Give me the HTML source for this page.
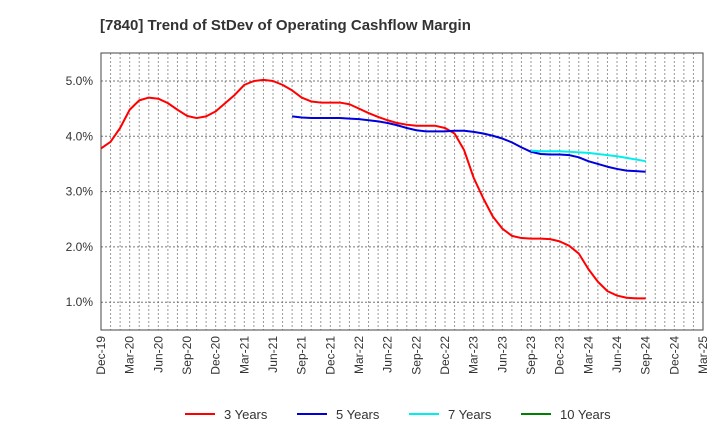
<!DOCTYPE html>
<html><head><meta charset="utf-8"><style>
body{margin:0;background:#fff;font-family:"Liberation Sans",sans-serif}
</style></head><body>
<svg width="720" height="440" id="c" xmlns="http://www.w3.org/2000/svg" font-family="Liberation Sans, sans-serif">
<text x="100" y="30" font-size="15" font-weight="bold" fill="#333">[7840]  Trend of StDev of Operating Cashflow Margin</text>
<g id="grid"></g><g id="axes"></g><g id="series"></g><g id="legend"></g>
</svg>
<script>
const xLabels=["Dec-19","Mar-20","Jun-20","Sep-20","Dec-20","Mar-21","Jun-21","Sep-21","Dec-21","Mar-22","Jun-22","Sep-22","Dec-22","Mar-23","Jun-23","Sep-23","Dec-23","Mar-24","Jun-24","Sep-24","Dec-24","Mar-25"];
const yTicks=[1,2,3,4,5];
const y3=[3.78,3.9,4.15,4.48,4.65,4.7,4.68,4.6,4.48,4.37,4.33,4.36,4.45,4.6,4.75,4.93,5.0,5.02,5.0,4.93,4.83,4.7,4.63,4.61,4.61,4.61,4.58,4.5,4.42,4.35,4.29,4.24,4.21,4.19,4.19,4.19,4.15,4.05,3.75,3.25,2.88,2.55,2.33,2.2,2.16,2.15,2.15,2.14,2.1,2.02,1.88,1.6,1.37,1.2,1.12,1.08,1.07,1.07];
const y5=[4.36,4.34,4.33,4.33,4.33,4.33,4.32,4.31,4.29,4.27,4.24,4.2,4.15,4.11,4.09,4.09,4.09,4.1,4.1,4.08,4.05,4.01,3.96,3.89,3.8,3.72,3.68,3.67,3.67,3.66,3.62,3.55,3.5,3.45,3.41,3.38,3.37,3.36];
const y7=[3.74,3.73,3.73,3.73,3.72,3.71,3.7,3.68,3.66,3.64,3.61,3.58,3.55];
const y10=[];
const start5=20, start7=45, start10=0;
const L=101,R=703,T=53,B=330;
const NS="http://www.w3.org/2000/svg";
const X=m=>L+m*(R-L)/63;
const Y=v=>81+(5-v)*55.3;
function mk(tag,attrs,parent){const e=document.createElementNS(NS,tag);for(const k in attrs)e.setAttribute(k,attrs[k]);document.getElementById(parent).appendChild(e);return e;}
for(let m=1;m<63;m++){const g=mk('line',{x1:X(m),x2:X(m),y1:T,y2:B,stroke:'#999','stroke-dasharray':'2,2','stroke-width':1},'grid');

}
yTicks.forEach(v=>{const g=mk('line',{x1:L,x2:R,y1:Y(v),y2:Y(v),stroke:'#777','stroke-dasharray':'2,2','stroke-width':1},'grid');


const t=mk('text',{x:L-8,y:Y(v)+4,'text-anchor':'end','font-size':12,fill:'#333'},'axes');t.textContent=v.toFixed(1)+'%';

});
const fr=mk('rect',{x:L,y:T,width:R-L,height:B-T,fill:'none',stroke:'#444','stroke-width':1},'axes');


xLabels.forEach((s,i)=>{const x=X(i*3);const t=mk('text',{x:x+4,y:B+6,'text-anchor':'end','font-size':12,fill:'#333',transform:`rotate(-90 ${x+4} ${B+6})`},'axes');t.textContent=s;

});
function line(arr,start,color,name){if(!arr.length)return;const p=mk('polyline',{points:arr.map((v,i)=>X(start+i)+','+Y(v)).join(' '),fill:'none',stroke:color,'stroke-width':2,'stroke-linejoin':'round'},'series');

}
line(y3,0,'#ff0000','series-3-years');line(y5,start5,'#0000dd','series-5-years');line(y7,start7,'#00eeee','series-7-years');line(y10,start10,'#008000','series-10-years');
[['3 Years','#ff0000',185],['5 Years','#0000dd',297],['7 Years','#00eeee',409],['10 Years','#008000',521]].forEach(([n,c,x])=>{
const l=mk('line',{x1:x,x2:x+30,y1:414,y2:414,stroke:c,'stroke-width':2},'legend');


const t=mk('text',{x:x+39,y:419,'font-size':13,fill:'#333'},'legend');t.textContent=n;

});
</script>
</body></html>
